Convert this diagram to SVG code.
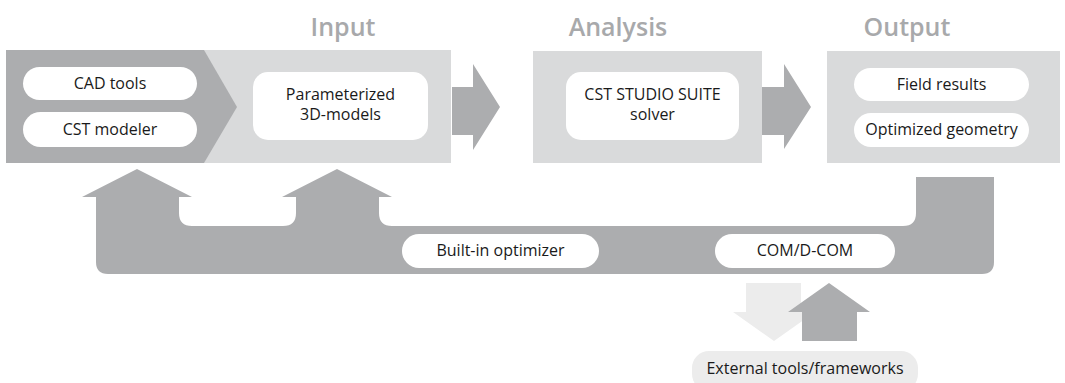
<svg xmlns="http://www.w3.org/2000/svg" width="1065" height="383" viewBox="0 0 1065 383">
<style>
.dark{fill:#acadaf}
.light{fill:#d9dadb}
.pale{fill:#ececec}
.pill{fill:#ffffff}
.t{font-family:"Open Sans","Noto Sans",sans-serif;font-size:16px;fill:#1a1a1a;text-anchor:middle}
.title{font-family:"Open Sans","Noto Sans",sans-serif;font-size:25px;font-weight:600;fill:#a8a9ab;text-anchor:middle}
</style>
<rect width="1065" height="383" fill="#ffffff"/>
<g id="titles">
<text class="title" x="343" y="36">Input</text>
<text class="title" x="618" y="36">Analysis</text>
<text class="title" x="907" y="36">Output</text>
</g>
<g id="input">
<rect class="light" x="6" y="50" width="445" height="113"/>
<polygon class="dark" points="6,50 204,50 237,107 204,163 6,163"/>
</g>
<g id="cad-tools">
<rect class="pill" x="23" y="67" width="174" height="33" rx="16.5"/>
<text class="t" x="110" y="89">CAD tools</text>
</g>
<g id="cst-modeler">
<rect class="pill" x="23" y="112" width="174" height="35" rx="17.5"/>
<text class="t" x="110" y="135">CST modeler</text>
</g>
<g id="parameterized">
<rect class="pill" x="253" y="72" width="175" height="68" rx="15"/>
<text class="t" x="340.5" y="100">Parameterized</text>
<text class="t" x="340.5" y="120">3D-models</text>
</g>
<g id="analysis">
<rect class="light" x="533" y="51" width="229" height="112"/>
</g>
<g id="solver">
<rect class="pill" x="566" y="72" width="173" height="68" rx="15"/>
<text class="t" x="652.5" y="100">CST STUDIO SUITE</text>
<text class="t" x="652.5" y="120">solver</text>
</g>
<g id="output">
<rect class="light" x="827" y="51" width="233" height="112"/>
</g>
<g id="field-results">
<rect class="pill" x="854" y="68" width="175" height="33" rx="16.5"/>
<text class="t" x="941.5" y="90">Field results</text>
</g>
<g id="optimized-geometry">
<rect class="pill" x="854" y="113" width="175" height="34" rx="17"/>
<text class="t" x="941.5" y="135">Optimized geometry</text>
</g>
<g id="connectors">
<polygon class="dark" points="452,87 473,87 473,64 500,107 473,150 473,135 452,135"/>
<polygon class="dark" points="762,87 784,87 784,64 811,107 784,149 784,135 762,135"/>
<path class="dark" d="M137,169 L192,197 L179,197 L179,213 Q179,226 192,226 L283,226 Q296,226 296,213 L296,197 L282,197 L337,169 L392,197 L379,197 L379,213 Q379,226 392,226 L903,226 Q916,226 916,213 L916,177 L994,177 L994,262 Q994,274 982,274 L108,274 Q96,274 96,262 L96,197 L82,197 Z"/>
<polygon class="pale" points="746,283 801,283 801,312 815,312 774,341 733,312 746,312"/>
<polygon class="dark" points="829,283 870,312 857,312 857,341 802,341 802,312 788,312"/>
</g>
<g id="built-in-optimizer">
<rect class="pill" x="402" y="234" width="197" height="34" rx="17"/>
<text class="t" x="500.5" y="256">Built-in optimizer</text>
</g>
<g id="com-dcom">
<rect class="pill" x="715" y="234" width="180" height="34" rx="17"/>
<text class="t" x="805" y="256">COM/D-COM</text>
</g>
<g id="external-tools">
<rect class="pale" x="692" y="351" width="226" height="40" rx="17"/>
<text class="t" x="805" y="374">External tools/frameworks</text>
</g>
</svg>
